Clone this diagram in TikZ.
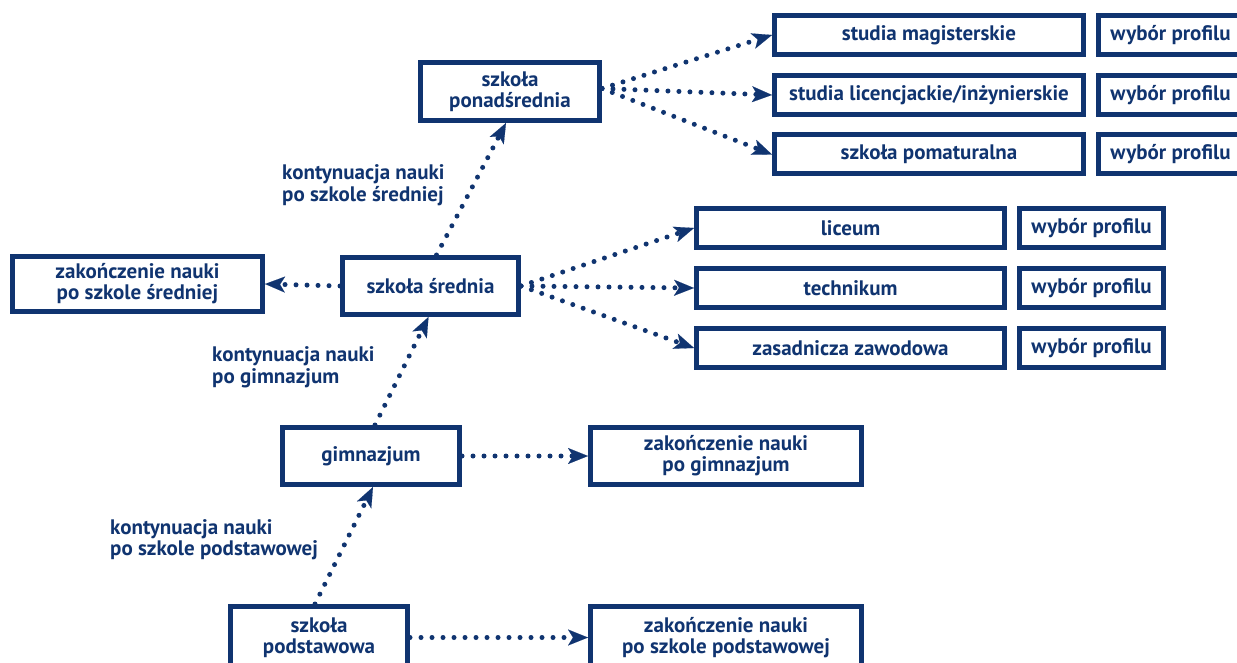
\documentclass[tikz,border=0pt]{standalone}
\usepackage{fontspec}
\setmainfont{PT Sans}
\usetikzlibrary{arrows.meta}
\definecolor{navy}{HTML}{103470}
\begin{document}
\begin{tikzpicture}[x=1pt,y=-1pt,
  box/.style={draw=navy, line width=5pt, text=navy, font=\bfseries\fontsize{21}{21}\selectfont, align=center, inner sep=0pt},
  lbl/.style={text=navy, font=\bfseries\fontsize{21}{21.5}\selectfont, align=left, inner sep=0pt, anchor=west},
  conn/.style={draw=navy, line width=5pt, dash pattern=on 0pt off 11pt, line cap=round, -{Stealth[length=20pt,width=16pt,inset=5pt,line width=0.1pt]}}
]
\useasboundingbox (0,0) rectangle (1237,663);
\clip (0,0) rectangle (1237,663);
% boxes
\node[box, minimum width=179pt, minimum height=58pt] (ponad) at (510,91.5) {szkoła\\ponadśrednia};
\node[box, minimum width=309pt, minimum height=39pt] (mag) at (929,35) {studia magisterskie};
\node[box, minimum width=309pt, minimum height=39pt] (lic) at (929,95) {studia licencjackie/inżynierskie};
\node[box, minimum width=309pt, minimum height=39pt] (pomat) at (929,154.5) {szkoła pomaturalna};
\node[box, minimum width=144pt, minimum height=39pt] (wyb1) at (1170.5,35) {wybór profilu};
\node[box, minimum width=144pt, minimum height=39pt] (wyb2) at (1170.5,95) {wybór profilu};
\node[box, minimum width=144pt, minimum height=39pt] (wyb3) at (1170.5,154.5) {wybór profilu};
\node[box, minimum width=308pt, minimum height=39pt] (lice) at (850.5,228) {liceum};
\node[box, minimum width=308pt, minimum height=39pt] (tech) at (850.5,288) {technikum};
\node[box, minimum width=308pt, minimum height=39pt] (zas) at (850.5,348) {zasadnicza zawodowa};
\node[box, minimum width=144pt, minimum height=39pt] (wyb4) at (1091.5,228) {wybór profilu};
\node[box, minimum width=144pt, minimum height=39pt] (wyb5) at (1091.5,288) {wybór profilu};
\node[box, minimum width=144pt, minimum height=39pt] (wyb6) at (1091.5,348) {wybór profilu};
\node[box, minimum width=176pt, minimum height=57pt] (sred) at (430.5,286) {szkoła średnia};
\node[box, minimum width=250pt, minimum height=55pt] (zsred) at (137.5,284) {zakończenie nauki\\po szkole średniej};
\node[box, minimum width=177pt, minimum height=57pt] (gim) at (371,456) {gimnazjum};
\node[box, minimum width=271pt, minimum height=57pt] (zgim) at (726,456) {zakończenie nauki\\po gimnazjum};
\node[box, minimum width=177pt, minimum height=62pt] (pod) at (319,637.5) {szkoła\\podstawowa};
\node[box, minimum width=271pt, minimum height=62pt] (zpod) at (726,637.5) {zakończenie nauki\\po szkole podstawowej};
% labels
\node[lbl] (l1) at (282,185) {kontynuacja nauki\\po szkole średniej};
\node[lbl] (l2) at (212,367.5) {kontynuacja nauki\\po gimnazjum};
\node[lbl] (l3) at (110,539.5) {kontynuacja nauki\\po szkole podstawowej};
% connectors
\draw[conn] ([xshift=-4pt]pod.north) -- ([xshift=2pt]gim.south);
\draw[conn] ([xshift=4pt]gim.north) -- ([xshift=-2pt]sred.south);
\draw[conn] ([xshift=6pt]sred.north) -- ([xshift=-4pt]ponad.south);
\draw[conn] (sred.west) -- (zsred.east);
\draw[conn] (sred.east) -- (lice.west);
\draw[conn] (sred.east) -- (tech.west);
\draw[conn] (sred.east) -- (zas.west);
\draw[conn] ([yshift=3pt]ponad.east) -- (mag.west);
\draw[conn] ([yshift=3pt]ponad.east) -- (lic.west);
\draw[conn] ([yshift=3pt]ponad.east) -- (pomat.west);
\draw[conn] (gim.east) -- (zgim.west);
\draw[conn] (pod.east) -- (zpod.west);
\end{tikzpicture}
\end{document}
